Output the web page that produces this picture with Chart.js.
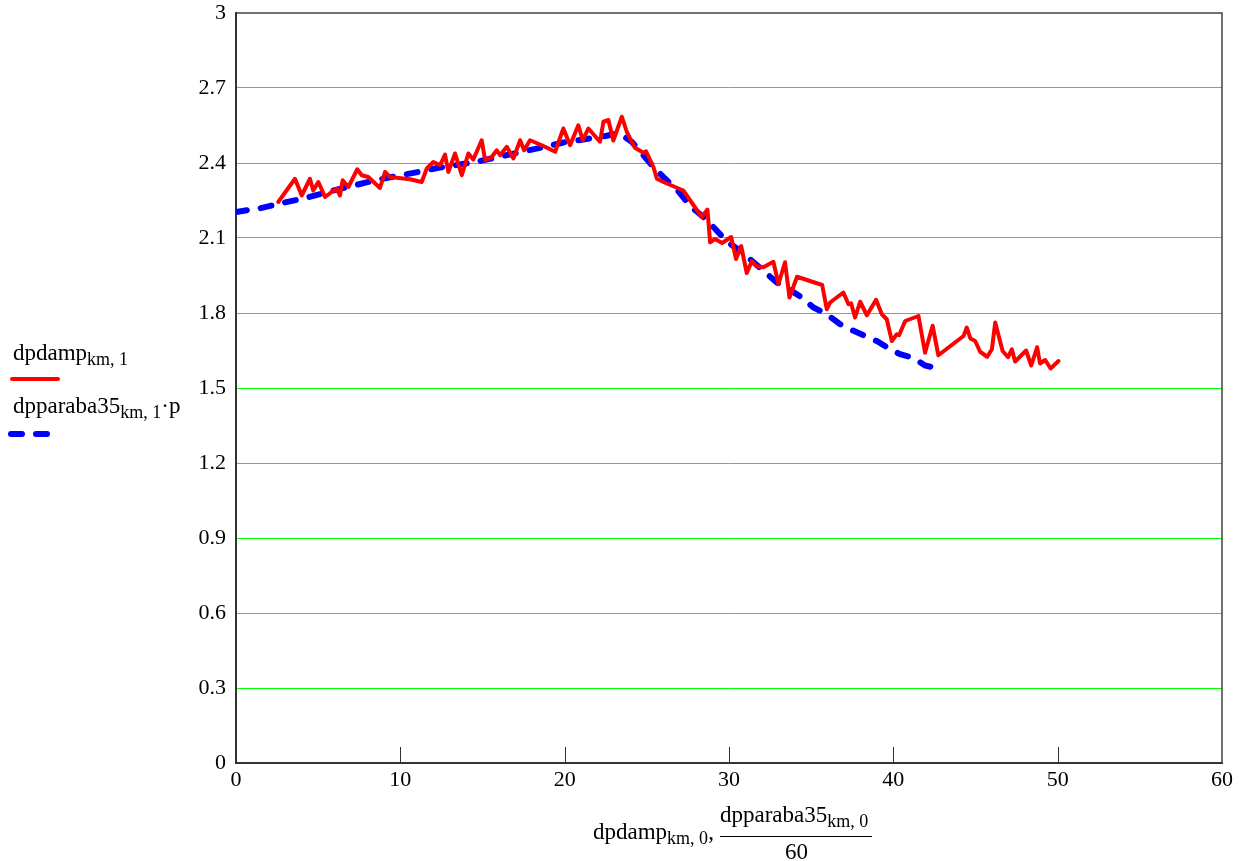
<!DOCTYPE html>
<html>
<head>
<meta charset="utf-8">
<script src="https://cdn.jsdelivr.net/npm/chart.js@4"></script>
<style>
  body { margin: 0; background: #fff; }
  #wrap { position: relative; width: 1252px; height: 861px; font-family: "Liberation Serif", "Times New Roman", serif; color: #000; }
  #myChart { position: absolute; left: 0; top: 0; }
  .txt { position: absolute; font-size: 23px; white-space: nowrap; line-height: 1; }
  .txt sub { font-size: 18px; vertical-align: -5px; line-height: 1; }
  .redline { position: absolute; left: 10px; top: 377px; width: 50px; height: 4px; background: #ff0000; border-radius: 2px; }
  .bluedash { position: absolute; top: 431px; width: 17px; height: 6px; background: #0000ff; border-radius: 3px; }
  .bar { position: absolute; left: 720px; top: 836px; width: 152px; height: 1px; background: #000; }
</style>
</head>
<body>
<div id="wrap">
  <canvas id="myChart" width="1252" height="861"></canvas>

  <div class="txt" style="left:13px; top:341px;">dpdamp<sub>km, 1</sub></div>
  <div class="redline"></div>
  <div class="txt" style="left:13px; top:394px;">dpparaba35<sub>km, 1</sub>·p</div>
  <div class="bluedash" style="left:8px;"></div>
  <div class="bluedash" style="left:33px;"></div>

  <div class="txt" style="left:593px; top:820px;">dpdamp<sub>km, 0</sub>,</div>
  <div class="txt" style="left:720px; top:803px;">dpparaba35<sub>km, 0</sub></div>
  <div class="bar"></div>
  <div class="txt" style="left:785px; top:840px;">60</div>
</div>

<script>
// measured series (dpdamp)
var redX = [2.57, 3.59, 4.00, 4.50, 4.70, 5.01, 5.42, 5.82, 6.13, 6.33, 6.49, 6.84, 7.38, 7.65, 8.05, 8.76, 9.07, 9.37,
            10.59, 11.30, 11.61, 12.01, 12.42, 12.72, 12.92, 13.33, 13.74, 14.14, 14.44, 14.95, 15.16, 15.56, 15.87,
            16.07, 16.48, 16.88, 17.29, 17.53, 17.89, 18.61, 19.42, 19.92, 20.33, 20.83, 21.10, 21.44, 22.15, 22.36,
            22.66, 22.96, 23.48, 23.78, 23.98, 24.28, 24.79, 24.95, 25.40, 25.61, 26.01, 27.22, 28.34, 28.69, 28.85,
            29.15, 29.58, 30.13, 30.43, 30.74, 31.08, 31.39, 31.65, 32.09, 32.70, 33.01, 33.41, 33.68, 34.14, 35.67,
            35.95, 36.15, 36.96, 37.27, 37.43, 37.67, 37.98, 38.39, 38.95, 39.30, 39.60, 39.91, 40.21, 40.35, 40.72,
            41.53, 41.93, 42.39, 42.74, 44.27, 44.47, 44.69, 44.98, 45.28, 45.71, 46.00, 46.20, 46.65, 46.98, 47.21,
            47.41, 48.08, 48.39, 48.75, 48.93, 49.24, 49.57, 50.05];
var redY = [2.244, 2.337, 2.270, 2.337, 2.290, 2.324, 2.264, 2.284, 2.297, 2.270, 2.331, 2.304, 2.375, 2.351, 2.344, 2.300, 2.364, 2.344,
            2.335, 2.324, 2.378, 2.404, 2.391, 2.434, 2.364, 2.438, 2.351, 2.438, 2.414, 2.491, 2.411, 2.424, 2.451,
            2.431, 2.465, 2.418, 2.491, 2.451, 2.491, 2.471, 2.445, 2.538, 2.471, 2.551, 2.491, 2.538, 2.485, 2.565,
            2.572, 2.490, 2.585, 2.525, 2.498, 2.461, 2.441, 2.447, 2.384, 2.337, 2.324, 2.290, 2.184, 2.214, 2.083,
            2.096, 2.080, 2.104, 2.016, 2.068, 1.960, 2.008, 1.988, 1.983, 2.005, 1.916, 2.003, 1.862, 1.945, 1.912,
            1.815, 1.842, 1.882, 1.835, 1.839, 1.782, 1.845, 1.791, 1.853, 1.795, 1.775, 1.688, 1.715, 1.711, 1.768,
            1.788, 1.641, 1.749, 1.631, 1.708, 1.742, 1.698, 1.688, 1.645, 1.625, 1.655, 1.762, 1.648, 1.623, 1.655,
            1.606, 1.650, 1.590, 1.663, 1.598, 1.612, 1.578, 1.608];

// fitted series (dpparaba35 * p)
var blueX = [0, 1.46, 2.88, 4.30, 5.72, 7.24, 8.46, 9.78, 11.10, 12.31, 13.63, 14.85, 15.97, 17.18, 18.61, 19.92, 21.24,
             22.56, 23.30, 24.08, 24.79, 25.40, 26.21, 26.92, 27.63, 28.44, 29.15, 29.87, 30.68, 31.39, 32.09, 32.91,
             33.62, 34.33, 35.14, 35.95, 36.76, 37.37, 38.28, 38.99, 39.81, 40.41, 41.22, 41.93, 42.80];
var blueY = [2.204, 2.219, 2.241, 2.261, 2.287, 2.311, 2.331, 2.348, 2.364, 2.381, 2.394, 2.408, 2.424, 2.442, 2.462, 2.482, 2.495,
             2.509, 2.520, 2.485, 2.431, 2.384, 2.331, 2.287, 2.228, 2.184, 2.137, 2.086, 2.049, 2.009, 1.969, 1.922,
             1.896, 1.866, 1.822, 1.795, 1.755, 1.735, 1.708, 1.688, 1.655, 1.635, 1.621, 1.590, 1.577];

var xTickLabels = ["0", "10", "20", "30", "40", "50", "60"];
var yTickLabels = ["0", "0.3", "0.6", "0.9", "1.2", "1.5", "1.8", "2.1", "2.4", "2.7", "3"];

function toPoints(xs, ys){
    var pts = [];
    for(let i = 0; i < xs.length; i++){
        pts.push({x: xs[i], y: ys[i]});
    }
    return pts;
}

// frame on top/right plus inward ticks along the bottom
var framePlugin = {
    id: 'frame',
    afterDraw: function(chart){
        var a = chart.chartArea;
        var c = chart.ctx;
        var xs = chart.scales.x;
        c.save();
        c.strokeStyle = '#3a4a3a';
        c.lineWidth = 1.5;
        c.beginPath();
        c.moveTo(a.left, a.top);
        c.lineTo(a.right, a.top);
        c.lineTo(a.right, a.bottom);
        c.stroke();
        c.strokeStyle = '#333';
        c.lineWidth = 1;
        for(let i = 1; i < xTickLabels.length - 1; i++){
            var px = Math.round(xs.getPixelForValue(Number(xTickLabels[i]))) + 0.5;
            c.beginPath();
            c.moveTo(px, a.bottom);
            c.lineTo(px, a.bottom - 16);
            c.stroke();
        }
        c.restore();
    }
};

var ctx = document.getElementById("myChart");
var chart = new Chart(ctx, {
    type: 'scatter',
    data: {
        datasets: [{
            label: 'dpdamp',
            data: toPoints(redX, redY),
            showLine: true,
            borderColor: '#ff0000',
            borderWidth: 4,
            pointRadius: 0,
            borderJoinStyle: 'round',
            borderCapStyle: 'round',
            tension: 0
        }, {
            label: 'dpparaba35',
            data: toPoints(blueX, blueY),
            showLine: true,
            borderColor: '#0000ff',
            borderWidth: 6,
            borderDash: [11, 14],
            borderCapStyle: 'round',
            pointRadius: 0,
            tension: 0
        }]
    },
    options: {
        responsive: false,
        animation: false,
        layout: { padding: { left: 0, top: 13, right: 30, bottom: 0 } },
        plugins: { legend: { display: false }, tooltip: { enabled: false } },
        scales: {
            x: {
                type: 'linear',
                min: 0, max: 60,
                afterBuildTicks: function(s){
                    s.ticks = xTickLabels.map(function(t){ return {value: Number(t)}; });
                },
                afterFit: function(s){ s.height = 98; s.paddingLeft = 0; s.paddingRight = 0; },
                ticks: {
                    color: '#000',
                    padding: 4,
                    maxRotation: 0,
                    font: { family: 'Liberation Serif', size: 22 },
                    callback: function(v, i){ return xTickLabels[i]; }
                },
                grid: { display: false, drawTicks: false },
                border: { color: '#333', width: 2 }
            },
            y: {
                min: 0, max: 3,
                afterBuildTicks: function(s){
                    s.ticks = yTickLabels.map(function(t){ return {value: Number(t)}; });
                },
                afterFit: function(s){ s.width = 236; s.paddingTop = 0; s.paddingBottom = 0; },
                ticks: {
                    color: '#000',
                    padding: 10,
                    font: { family: 'Liberation Serif', size: 22 },
                    callback: function(v, i){ return yTickLabels[i]; }
                },
                grid: {
                    drawTicks: false,
                    lineWidth: 1,
                    color: function(c){
                        if(c.index === 0 || c.index === yTickLabels.length - 1) return 'rgba(0,0,0,0)';
                        return '#00ff00';
                    }
                },
                border: { color: '#333', width: 2 }
            }
        }
    },
    plugins: [framePlugin]
});
</script>
</body>
</html>
